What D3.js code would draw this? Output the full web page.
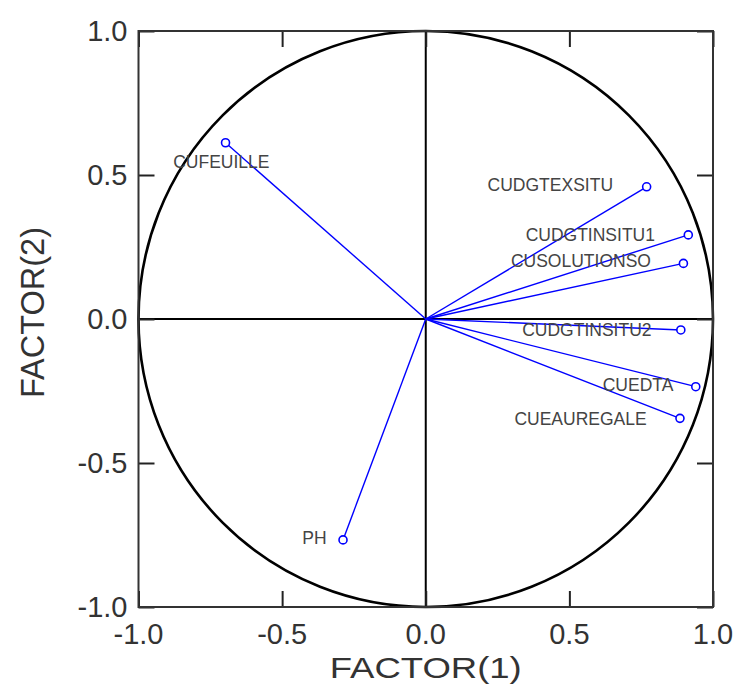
<!DOCTYPE html>
<html>
<head>
<meta charset="utf-8">
<script src="https://cdn.jsdelivr.net/npm/d3@7"></script>
<style>
  html, body { margin: 0; padding: 0; background: #fff; }
  svg { display: block; }
</style>
</head>
<body>
<script>
// ---- data ----
const variables = ["CUFEUILLE", "CUDGTEXSITU", "CUDGTINSITU1", "CUSOLUTIONSO", "CUDGTINSITU2", "CUEDTA", "CUEAUREGALE", "PH"];
const factor1 = [-0.697, 0.769, 0.914, 0.897, 0.888, 0.940, 0.885, -0.288];
const factor2 = [0.612, 0.459, 0.292, 0.193, -0.038, -0.235, -0.345, -0.767];
// label anchor (right end, vertical middle) in data units
const labelF1 = [-0.544, 0.652, 0.798, 0.784, 0.786, 0.862, 0.769, -0.345];
const labelF2 = [0.545, 0.465, 0.292, 0.201, -0.038, -0.229, -0.345, -0.760];
const tickValues = [-1.0, -0.5, 0.0, 0.5, 1.0];
const tickLabels = ["-1.0", "-0.5", "0.0", "0.5", "1.0"];
const xTitle = "FACTOR(1)";
const yTitle = "FACTOR(2)";

(function () {
// ---- layout ----
const W = 737, H = 693;
const mLeft = 138.5, mRight = 713, mTop = 31, mBottom = 607;

const svg = d3.select("body").append("svg").attr("width", W).attr("height", H);
const x = d3.scaleLinear().domain([-1, 1]).range([mLeft, mRight]);
const y = d3.scaleLinear().domain([-1, 1]).range([mBottom, mTop]);

const font = "'Liberation Sans', Arial, sans-serif";

// unit circle
svg.append("ellipse")
  .attr("cx", x(0)).attr("cy", y(0))
  .attr("rx", x(1) - x(0)).attr("ry", y(0) - y(1))
  .attr("fill", "none").attr("stroke", "#000").attr("stroke-width", 2.6);

// zero lines
svg.append("line").attr("x1", x(0)).attr("x2", x(0)).attr("y1", y(1)).attr("y2", y(-1))
  .attr("stroke", "#000").attr("stroke-width", 2);
svg.append("line").attr("x1", x(-1)).attr("x2", x(1)).attr("y1", y(0)).attr("y2", y(0))
  .attr("stroke", "#000").attr("stroke-width", 2);

// frame ticks (inward) via axes
const tl = 16;
const fmt = () => "";
svg.append("g").attr("transform", `translate(0,${mBottom})`)
  .call(d3.axisTop(x).tickValues(tickValues).tickSize(tl).tickFormat(fmt));
svg.append("g").attr("transform", `translate(0,${mTop})`)
  .call(d3.axisBottom(x).tickValues(tickValues).tickSize(tl).tickFormat(fmt));
svg.append("g").attr("transform", `translate(${mLeft},0)`)
  .call(d3.axisRight(y).tickValues(tickValues).tickSize(tl).tickFormat(fmt));
svg.append("g").attr("transform", `translate(${mRight},0)`)
  .call(d3.axisLeft(y).tickValues(tickValues).tickSize(tl).tickFormat(fmt));
svg.selectAll(".domain").remove();
svg.selectAll(".tick line").attr("stroke", "#222").attr("stroke-width", 2);

// frame
svg.append("rect").attr("x", mLeft).attr("y", mTop)
  .attr("width", mRight - mLeft).attr("height", mBottom - mTop)
  .attr("fill", "none").attr("stroke", "#333").attr("stroke-width", 2);

// tick labels
svg.append("g").selectAll("text").data(tickValues).join("text")
  .attr("x", d => x(d)).attr("y", mBottom + 37)
  .attr("text-anchor", "middle")
  .attr("font-family", font).attr("font-size", 29).attr("fill", "#333")
  .text((d, i) => tickLabels[i]);
svg.append("g").selectAll("text").data(tickValues).join("text")
  .attr("x", mLeft - 11).attr("y", d => y(d))
  .attr("dy", "0.36em")
  .attr("text-anchor", "end")
  .attr("font-family", font).attr("font-size", 29).attr("fill", "#333")
  .text((d, i) => tickLabels[i]);

// axis titles
svg.append("text").attr("x", (mLeft + mRight) / 2).attr("y", 678)
  .attr("text-anchor", "middle")
  .attr("font-family", font).attr("font-size", 30).attr("fill", "#333")
  .attr("textLength", 192).attr("lengthAdjust", "spacingAndGlyphs")
  .text(xTitle);
svg.append("text")
  .attr("transform", `translate(44,${y(0.5) + 223}) rotate(-90)`)
  .attr("x", 0).attr("y", 0)
  .attr("font-family", font).attr("font-size", 34).attr("fill", "#333")
  .attr("textLength", 171).attr("lengthAdjust", "spacingAndGlyphs")
  .text(yTitle);

// loading vectors
const pts = variables.map((v, i) => ({ name: v, f1: factor1[i], f2: factor2[i], l1: labelF1[i], l2: labelF2[i] }));
svg.append("g").selectAll("line").data(pts).join("line")
  .attr("x1", x(0)).attr("y1", y(0))
  .attr("x2", d => x(d.f1)).attr("y2", d => y(d.f2))
  .attr("stroke", "#0000ff").attr("stroke-width", 1.4);
svg.append("g").selectAll("circle").data(pts).join("circle")
  .attr("cx", d => x(d.f1)).attr("cy", d => y(d.f2)).attr("r", 4)
  .attr("fill", "#fff").attr("stroke", "#0000ff").attr("stroke-width", 1.6);

// labels
svg.append("g").selectAll("text").data(pts).join("text")
  .attr("x", d => x(d.l1)).attr("y", d => y(d.l2))
  .attr("dy", "0.36em").attr("text-anchor", "end")
  .attr("font-family", font).attr("font-size", 17.5).attr("fill", "#444")
  .text(d => d.name);
})();
</script>
</body>
</html>
